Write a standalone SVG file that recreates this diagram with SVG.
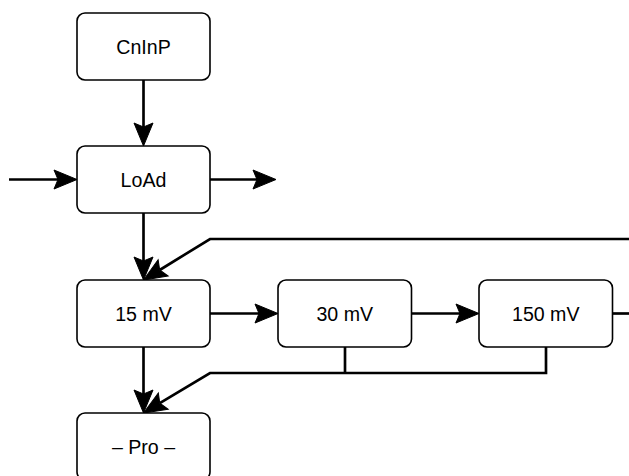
<svg xmlns="http://www.w3.org/2000/svg" width="629" height="476" viewBox="0 0 629 476">
<style>
.box{fill:#fff;stroke:#000;stroke-width:1.6}
.lbl{font-family:"Liberation Sans",Arial,sans-serif;font-size:19.6px;fill:#000;text-anchor:middle}
.ln{fill:none;stroke:#000;stroke-width:2.67}
.ar{marker-end:url(#arr)}
</style>
<defs>
<marker id="arr" markerUnits="userSpaceOnUse" markerWidth="30" markerHeight="30" orient="auto" refX="0" refY="0" viewBox="-6 -10 30 20" overflow="visible">
<path d="M-4,-9.5 L19,0 L-4,9.5 L0,0 Z" fill="#000" stroke="#000" stroke-width="1"/>
</marker>
</defs>
<rect width="629" height="476" fill="#fff"/>
<g id="connectors">
<path class="ln ar" d="M143.5,80 V127"/>
<path class="ln ar" d="M9,179.5 H58"/>
<path class="ln ar" d="M210,179.5 H257"/>
<path class="ln ar" d="M143.5,213 V261"/>
<path class="ln ar" d="M629,239 H210 L159.7,270"/>
<path class="ln ar" d="M210,313.5 H259"/>
<path class="ln ar" d="M411.5,313.5 H460"/>
<path class="ln" d="M612.5,313.5 H629"/>
<path class="ln ar" d="M143.5,347 V394"/>
<path class="ln" d="M345,347 V373"/>
<path class="ln ar" d="M546,347 V373 H210 L159.8,403.2"/>
</g>
<g id="cninp"><rect class="box" x="77" y="13" width="133" height="67" rx="8"/><text class="lbl" x="143.5" y="53.5">CnInP</text></g>
<g id="load"><rect class="box" x="77" y="146" width="133" height="67" rx="8"/><text class="lbl" x="143.5" y="186.5">LoAd</text></g>
<g id="mv15"><rect class="box" x="77" y="280" width="133" height="67" rx="8"/><text class="lbl" x="143.5" y="320.5">15 mV</text></g>
<g id="mv30"><rect class="box" x="278" y="280" width="133.5" height="67" rx="8"/><text class="lbl" x="344.75" y="320.5">30 mV</text></g>
<g id="mv150"><rect class="box" x="479" y="280" width="133.5" height="67" rx="8"/><text class="lbl" x="545.75" y="320.5">150 mV</text></g>
<g id="pro"><rect class="box" x="77" y="413" width="133" height="67" rx="8"/><text class="lbl" x="143.5" y="453.5">– Pro –</text></g>
</svg>
